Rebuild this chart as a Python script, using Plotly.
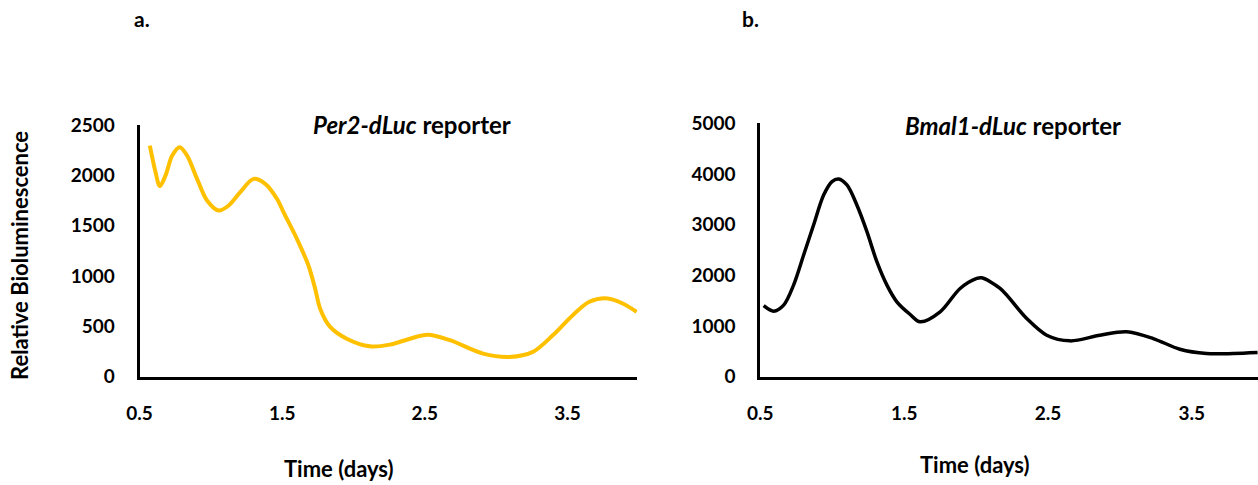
import plotly.graph_objects as go

# Per2-dLuc reporter trace (time in days, relative bioluminescence)
per2_days = [0.572, 0.612, 0.642, 0.682, 0.729, 0.782, 0.833, 0.903, 0.973, 1.055, 1.125,
             1.206, 1.299, 1.381, 1.463, 1.509, 1.603, 1.684, 1.731, 1.766, 1.836, 1.952,
             2.115, 2.255, 2.395, 2.52, 2.675, 2.908, 3.094, 3.257, 3.397, 3.537, 3.654,
             3.782, 3.887, 3.985]
per2_values = [2297, 2033, 1894, 1999, 2198, 2281, 2198, 1966, 1751, 1651, 1701,
               1834, 1966, 1917, 1768, 1636, 1370, 1105, 874, 675, 494, 377,
               301, 318, 377, 415, 362, 229, 196, 246, 411, 611, 744,
               777, 727, 644]

# Bmal1-dLuc reporter trace
bmal1_days = [0.523, 0.593, 0.662, 0.731, 0.801, 0.870, 0.940, 0.998, 1.044, 1.102, 1.171,
              1.241, 1.310, 1.380, 1.449, 1.542, 1.611, 1.75, 1.889, 2.005, 2.039, 2.167,
              2.352, 2.491, 2.653, 2.861, 3.046, 3.231, 3.417, 3.602, 3.787, 3.957]
bmal1_values = [1400, 1291, 1410, 1805, 2398, 2990, 3583, 3848, 3900, 3781, 3386,
                2860, 2267, 1805, 1476, 1225, 1081, 1278, 1739, 1937, 1950, 1739,
                1146, 816, 705, 816, 883, 751, 540, 455, 455, 474]

x_ticks = [0.5, 1.5, 2.5, 3.5]
per2_yticks = [0, 500, 1000, 1500, 2000, 2500]
bmal1_yticks = [0, 1000, 2000, 3000, 4000, 5000]

W, H = 1258, 485
FONT = "Lato, Carlito, 'Open Sans', sans-serif"


def px_x(p):
    return max(0.0, min(1.0, ((p - 12.4) / 0.99) / W))


def px_y(p):
    return max(0.0, min(1.0, 1 - ((p - 14) / 0.951) / H))


fig = go.Figure()
fig.add_trace(go.Scatter(x=per2_days, y=per2_values, mode="lines",
                         line=dict(color="#FFC000", width=4, shape="spline", smoothing=0.9),
                         xaxis="x", yaxis="y", showlegend=False))
fig.add_trace(go.Scatter(x=bmal1_days, y=bmal1_values, mode="lines",
                         line=dict(color="#000000", width=3.5, shape="spline", smoothing=0.9),
                         xaxis="x2", yaxis="y2", showlegend=False))

tickfont = dict(family=FONT, size=19, color="#000000", weight="bold")
common_axis = dict(showline=True, linecolor="#000000", linewidth=3, showgrid=False,
                   zeroline=False, ticks="", tickfont=tickfont, fixedrange=True)

fig.update_layout(
    width=W, height=H,
    margin=dict(l=0, r=0, t=0, b=0),
    paper_bgcolor="white", plot_bgcolor="white",
    xaxis=dict(domain=[px_x(139), px_x(637)], range=[0.5, 3.99], tickvals=x_ticks,
               ticktext=[str(v) for v in x_ticks], anchor="y", ticklabelstandoff=18,
               **common_axis),
    yaxis=dict(domain=[px_y(378), px_y(127)], range=[0, 2500], tickvals=per2_yticks,
               anchor="x", ticklabelstandoff=18, **common_axis),
    xaxis2=dict(domain=[px_x(760), 1.0], range=[0.5, 3.96], tickvals=x_ticks,
                ticktext=[str(v) for v in x_ticks], anchor="y2", ticklabelstandoff=18,
                **common_axis),
    yaxis2=dict(domain=[px_y(378), px_y(125)], range=[0, 5000], tickvals=bmal1_yticks,
                anchor="x2", ticklabelstandoff=18, **common_axis),
)


def label(text, x, y, size=16, angle=0):
    fig.add_annotation(text=text, x=px_x(x), y=px_y(y), xref="paper", yref="paper",
                       showarrow=False, textangle=angle, xanchor="center", yanchor="middle",
                       font=dict(family=FONT, size=size, color="#000000", weight="bold"))


label("<b>a.</b>", 141, 20, size=21)
label("<b>b.</b>", 750, 20, size=21)
label("<b><i>Per2-dLuc</i> reporter</b>", 412, 126, size=24)
label("<b><i>Bmal1-dLuc</i> reporter</b>", 1013, 127, size=24)
label("<b>Relative Bioluminescence</b>", 19, 257, size=22, angle=-90)
label("<b>Time (days)</b>", 339, 470, size=22)
label("<b>Time (days)</b>", 975, 466, size=22)

fig.write_html("out.html")
